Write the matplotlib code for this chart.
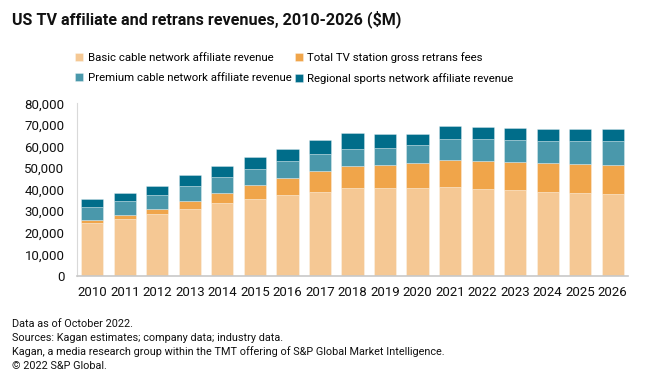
import matplotlib
matplotlib.use("Agg")
import matplotlib.pyplot as plt
import numpy as np

years = [str(y) for y in range(2010, 2027)]
basic = [24700, 26600, 28600, 31200, 33800, 35800, 37500, 39100, 40800, 40800,
         40900, 41400, 40300, 39800, 38900, 38600, 38100]
retrans = [1100, 1800, 2400, 3700, 4700, 6500, 7900, 9400, 10200, 10500,
           11500, 12500, 12800, 12900, 13300, 13300, 13300]
premium = [6200, 6300, 6400, 6800, 7400, 7300, 7900, 8000, 8000, 7900,
           8300, 9400, 10200, 10500, 10500, 10800, 11100]
rsn = [3800, 3900, 4300, 4900, 5100, 5700, 5700, 6700, 7100, 6700,
       4900, 6000, 5600, 5500, 5600, 5400, 5600]

series = [
    ("Basic cable network affiliate revenue", basic, "#F5C894"),
    ("Total TV station gross retrans fees", retrans, "#F0A54A"),
    ("Premium cable network affiliate revenue", premium, "#4A98AB"),
    ("Regional sports network affiliate revenue", rsn, "#006D8A"),
]

plt.rcParams['font.family'] = ['Roboto', 'DejaVu Sans']

fig = plt.figure(figsize=(6.6, 3.8), dpi=100)
ax = fig.add_axes([77/660, 104/380, 551/660, 172.7/380])

x = np.arange(len(years))
bottom = np.zeros(len(years))
handles = []
for name, vals, col in series:
    b = ax.bar(x, vals, width=0.68, bottom=bottom, color=col, label=name,
               edgecolor=(1, 1, 1, 0.35), linewidth=0.6)
    handles.append(b)
    bottom += np.array(vals)

ax.set_xlim(-0.47, 16.47)
ax.set_ylim(0, 80000)
ax.set_yticks(range(0, 80001, 10000))
ax.set_yticklabels([f"{v:,}" for v in range(0, 80001, 10000)], fontsize=9.5, color="#111111")
ax.set_xticks(x)
ax.set_xticklabels(years, fontsize=9.5, color="#111111")
ax.tick_params(axis="y", length=0, pad=9)
ax.tick_params(axis="x", length=0, pad=7)
for s in ["top", "right"]:
    ax.spines[s].set_visible(False)
ax.spines["left"].set_color("#d9d9d9")
ax.spines["bottom"].set_color("#c8c8c8")
ax.spines["bottom"].set_linewidth(1.2)

fig.text(12/660, 1 - 19/380, "US TV affiliate and retrans revenues, 2010-2026 ($M)",
         fontsize=11.6, fontweight="bold", va="center", ha="left", color="#111111")

order = [0, 2, 1, 3]
leg = fig.legend(handles=[handles[i] for i in order],
                 labels=[series[i][0] for i in order], ncol=2,
                 loc="center left", bbox_to_anchor=(75/660, 1 - 68/380),
                 frameon=False, fontsize=8.2, handlelength=0.7, handleheight=0.7,
                 handletextpad=0.4, columnspacing=0.3, labelspacing=0.95,
                 borderaxespad=0, borderpad=0)

footer = ["Data as of October 2022.",
          "Sources: Kagan estimates; company data; industry data.",
          "Kagan, a media research group within the TMT offering of S&P Global Market Intelligence.",
          "\u00a9 2022 S&P Global."]
for i, line in enumerate(footer):
    fig.text(12/660, 1 - (324 + 14 * i) / 380, line, fontsize=7.85,
             va="center", ha="left", color="#111111")

fig.savefig("out.png", dpi=100)
